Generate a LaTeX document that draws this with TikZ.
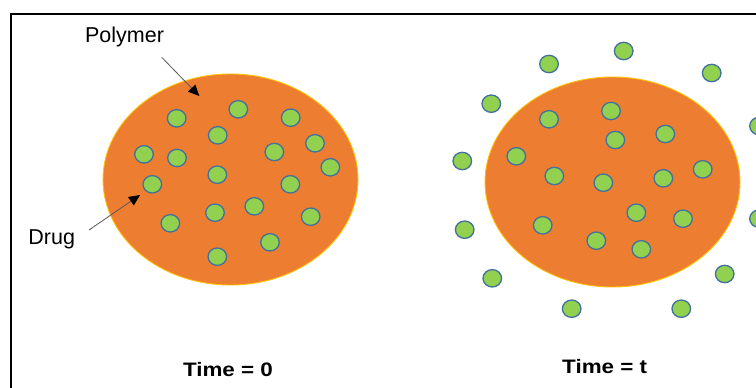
\documentclass[tikz,border=0pt]{standalone}
\usepackage{fontspec}
\setmainfont{Liberation Sans}
\usetikzlibrary{arrows.meta,shapes.geometric}
\definecolor{polyorange}{HTML}{ED7D31}
\definecolor{polyedge}{HTML}{FFC000}
\definecolor{druggreen}{HTML}{92D050}
\definecolor{drugedge}{HTML}{41719C}
\definecolor{leader}{HTML}{595959}
\tikzset{
  particle/.style={ellipse, fill=druggreen, draw=drugedge, line width=1.3pt,
    minimum width=18.6pt, minimum height=17.4pt, inner sep=0pt},
  matrixblob/.style={ellipse, fill=polyorange, draw=polyedge, line width=0.9pt,
    inner sep=0pt},
  caption/.style={font=\fontsize{21.5}{24}\selectfont, inner sep=0pt, anchor=base},
  timelabel/.style={font=\fontsize{19.5}{22}\selectfont\bfseries, inner sep=0pt, anchor=base},
  pointer/.style={draw=leader, line width=0.8pt,
    -{Triangle[length=11pt,width=10pt,fill=black,color=black]}}
}
\begin{document}
\begin{tikzpicture}[x=1pt,y=-1pt]
  \useasboundingbox (0,0) rectangle (756,388);
  \fill[white] (0,0) rectangle (756,388);
  % frame
  \draw[line width=2pt] (11,389) -- (11,14) -- (757,14);

  % polymer matrices
  \node[matrixblob, minimum width=255pt, minimum height=211pt] (blobA) at (230.5,179.5) {};
  \node[matrixblob, minimum width=255pt, minimum height=210pt] (blobB) at (612.5,182) {};

  % drug particles held in the matrix
  \foreach \px/\py [count=\i] in {176.7/118.3, 238.3/109.3, 290.7/117.7, 217.7/135.3,
      144/154.3, 177/158, 274.3/152, 315/143.3, 330.3/167.3, 217.3/174.7,
      152.3/184.3, 290.3/184.3, 170.3/223.3, 215/212.7, 254.3/206.3,
      310.7/216.7, 270/242.3, 217.3/256.7}
    \node[particle] (a\i) at (\px,\py) {};

  % drug particles after release
  \foreach \px/\py [count=\i] in {549/64, 623.7/51, 711.7/73, 491.3/103.7, 549/119.3,
      611/111, 759/126, 615.3/140, 665.3/134, 462.3/161, 516.3/156.3,
      554.3/176, 603.3/182.7, 663.3/178.3, 702.7/169.3, 464.7/229.7,
      542.7/225.3, 636.3/212.7, 683/218.7, 759/218.7, 596.3/240.7,
      641.3/249.3, 492.3/278.3, 724.7/274, 571.7/308.7, 681.3/308.7}
    \node[particle] (b\i) at (\px,\py) {};

  % labels
  \node[caption] (lpoly) at (124.5,42.7) {Polymer};
  \node[caption] (ldrug) at (51.7,244) {Drug};
  \node[timelabel] (tzero) at (228,376) {\scalebox{1.15}[1]{Time = 0}};
  \node[timelabel] (tt) at (604.7,373) {\scalebox{1.15}[1]{Time = t}};

  % leader arrows
  \coordinate (polyfrom) at (161.7,57.3);
  \coordinate (polyto) at (199.3,96);
  \coordinate (drugfrom) at (89,230);
  \coordinate (drugto) at (140,195);
  \draw[pointer] (polyfrom) -- (polyto);
  \draw[pointer] (drugfrom) -- (drugto);
\end{tikzpicture}
\end{document}
